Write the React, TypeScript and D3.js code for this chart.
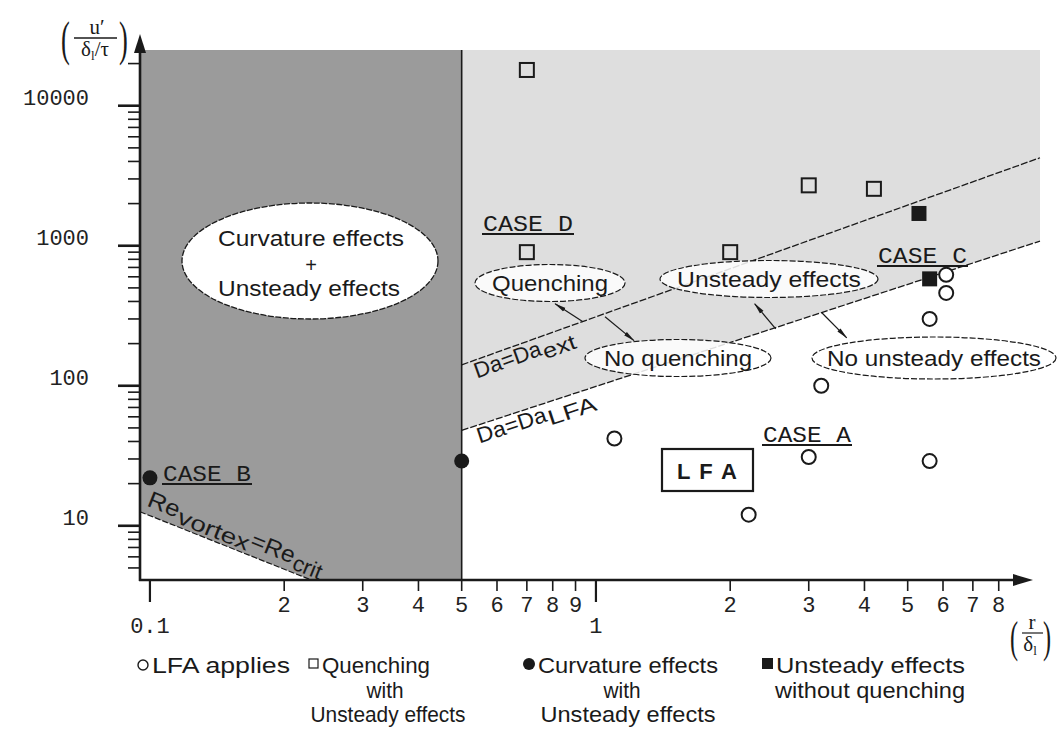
import React from "react";
import * as d3 from "d3";

// ---------- data ----------
const X_DOMAIN: [number, number] = [0.095, 9.9];
const Y_DOMAIN: [number, number] = [4.1, 25000];

const xMajorTicks = [0.1, 1];
const xMajorLabels = ["0.1", "1"];
const xMinorTicks = [0.2, 0.3, 0.4, 0.5, 0.6, 0.7, 0.8, 0.9, 2, 3, 4, 5, 6, 7, 8];
const xMinorLabels = ["2", "3", "4", "5", "6", "7", "8", "9", "2", "3", "4", "5", "6", "7", "8"];
const yMajorTicks = [10, 100, 1000, 10000];
const yMajorLabels = ["10", "100", "1000", "10000"];
const yMinorTicks = [
  5, 6, 7, 8, 9,
  20, 30, 40, 50, 60, 70, 80, 90,
  200, 300, 400, 500, 600, 700, 800, 900,
  2000, 3000, 4000, 5000, 6000, 7000, 8000, 9000,
  20000,
];

// r/δl , u'/(δl/τ)
const lfaPoints = [
  { x: 1.1, y: 42 },
  { x: 2.2, y: 12 },
  { x: 3.0, y: 31 },
  { x: 3.2, y: 100 },
  { x: 5.6, y: 29 },
  { x: 5.6, y: 300 },
  { x: 6.1, y: 460 },
  { x: 6.1, y: 620 },
];
const quenchingPoints = [
  { x: 0.7, y: 18000 },
  { x: 0.7, y: 900 },
  { x: 2.0, y: 900 },
  { x: 3.0, y: 2700 },
  { x: 4.2, y: 2550 },
];
const curvaturePoints = [
  { x: 0.1, y: 22 },
  { x: 0.5, y: 29 },
];
const unsteadyPoints = [
  { x: 5.3, y: 1700 },
  { x: 5.6, y: 580 },
];

// regime boundaries
const reCritLine = [
  { x: 0.095, y: 12.6 },
  { x: 0.23, y: 4.1 },
];
const daLfaLine = [
  { x: 0.5, y: 48 },
  { x: 9.9, y: 1080 },
];
const daExtLine = [
  { x: 0.5, y: 141 },
  { x: 9.9, y: 4250 },
];
const curvatureLimit = 0.5;

// arrows between regime labels (tail on a boundary, head at a label)
const regimeArrows = [
  { from: { x: 0.935, y: 287 }, to: { x: 0.81, y: 385 } },
  { from: { x: 1.048, y: 311 }, to: { x: 1.217, y: 210 } },
  { from: { x: 2.53, y: 255 }, to: { x: 2.27, y: 385 } },
  { from: { x: 3.21, y: 332 }, to: { x: 3.65, y: 220 } },
];

// ---------- layout ----------
const W = 1057;
const H = 731;
const PLOT = { left: 140, right: 1040, top: 50, bottom: 580 };

const SANS = "'Liberation Sans', Arial, Helvetica, sans-serif";
const NARROW = "'Liberation Sans Narrow', 'Liberation Sans', Arial, sans-serif";
const MONO = "'Liberation Mono', 'Courier New', monospace";
const SERIF = "'Liberation Serif', 'Times New Roman', serif";

const INK = "#1a1a1a";
const DARK_GRAY = "#9b9b9b";
const LIGHT_GRAY = "#dedede";

const bubbles = [
  { cx: 550, cy: 283, rx: 75, ry: 18.5, lines: [{ t: "Quenching", y: 291, w: 116 }] },
  { cx: 769, cy: 279, rx: 109, ry: 18.5, lines: [{ t: "Unsteady effects", y: 287, w: 184 }] },
  { cx: 678, cy: 358, rx: 93, ry: 18.5, lines: [{ t: "No quenching", y: 366, w: 148 }] },
  { cx: 934, cy: 358, rx: 122, ry: 21, lines: [{ t: "No unsteady effects", y: 366, w: 214 }] },
];

const caseLabels = [
  { t: "CASE B", x: 163, y: 481, w: 88 },
  { t: "CASE D", x: 483, y: 231, w: 90 },
  { t: "CASE C", x: 878, y: 263, w: 89 },
  { t: "CASE A", x: 763, y: 442, w: 88 },
];

export default function App() {
  const xs = d3.scaleLog().domain(X_DOMAIN).range([PLOT.left, PLOT.right]);
  const ys = d3.scaleLog().domain(Y_DOMAIN).range([PLOT.bottom, PLOT.top]);
  const [yLo, yHi] = Y_DOMAIN;
  const [xLo, xHi] = X_DOMAIN;

  const poly = (pts: { x: number; y: number }[]) =>
    pts.map((p) => `${xs(p.x)},${ys(p.y)}`).join(" ");

  const darkRegion = poly([
    reCritLine[0],
    { x: xLo, y: yHi },
    { x: curvatureLimit, y: yHi },
    { x: curvatureLimit, y: yLo },
    reCritLine[1],
  ]);
  const lightRegion = poly([
    { x: curvatureLimit, y: yHi },
    { x: xHi, y: yHi },
    daLfaLine[1],
    daLfaLine[0],
  ]);

  const line = d3
    .line<{ x: number; y: number }>()
    .x((d) => xs(d.x))
    .y((d) => ys(d.y));

  const angleOf = (pts: { x: number; y: number }[]) =>
    (Math.atan2(ys(pts[1].y) - ys(pts[0].y), xs(pts[1].x) - xs(pts[0].x)) * 180) / Math.PI;

  // point on a boundary at a given pixel x
  const onLine = (pts: { x: number; y: number }[], px: number) => {
    const x0 = xs(pts[0].x), y0 = ys(pts[0].y), x1 = xs(pts[1].x), y1 = ys(pts[1].y);
    return { x: px, y: y0 + ((px - x0) * (y1 - y0)) / (x1 - x0) };
  };

  const extAnchor = onLine(daExtLine, 471);
  const lfaAnchor = onLine(daLfaLine, 474);
  const reAnchor = onLine(reCritLine, 143);

  return (
    <svg
      width={W}
      height={H}
      viewBox={`0 0 ${W} ${H}`}
      style={{ position: "absolute", left: 0, top: 0, background: "#fff" }}
    >
      <defs>
        <marker
          id="head"
          viewBox="0 0 12 6"
          refX="11"
          refY="3"
          markerWidth="12"
          markerHeight="6"
          markerUnits="userSpaceOnUse"
          orient="auto"
        >
          <path d="M0,0.8 L12,3 L0,5.2 Z" fill={INK} />
        </marker>
      </defs>

      {/* regime regions */}
      <polygon points={darkRegion} fill={DARK_GRAY} />
      <polygon points={lightRegion} fill={LIGHT_GRAY} />

      {/* regime boundaries */}
      <path d={line(reCritLine) || ""} stroke={INK} strokeWidth={1.2} strokeDasharray="6 2" fill="none" />
      <path d={line(daLfaLine) || ""} stroke={INK} strokeWidth={1.3} strokeDasharray="7 2" fill="none" />
      <path d={line(daExtLine) || ""} stroke={INK} strokeWidth={1.3} strokeDasharray="7 2" fill="none" />
      <line
        x1={xs(curvatureLimit)}
        x2={xs(curvatureLimit)}
        y1={ys(yHi)}
        y2={ys(yLo)}
        stroke={INK}
        strokeWidth={1.6}
      />

      {/* curvature + unsteady bubble */}
      <ellipse cx={310} cy={261} rx={128} ry={58} fill="#fff" stroke={INK} strokeWidth={1.3} strokeDasharray="6 1.5" />
      <text x={311} y={246} textAnchor="middle" fontFamily={SANS} fontSize={22} fill={INK} textLength={186} lengthAdjust="spacingAndGlyphs">
        Curvature effects
      </text>
      <text x={311} y={272} textAnchor="middle" fontFamily={SANS} fontSize={20} fill={INK}>
        +
      </text>
      <text x={309} y={296} textAnchor="middle" fontFamily={SANS} fontSize={22} fill={INK} textLength={182} lengthAdjust="spacingAndGlyphs">
        Unsteady effects
      </text>

      {/* arrows between regime labels */}
      {regimeArrows.map((a, i) => (
        <line
          key={i}
          x1={xs(a.from.x)}
          y1={ys(a.from.y)}
          x2={xs(a.to.x)}
          y2={ys(a.to.y)}
          stroke={INK}
          strokeWidth={1.2}
          markerEnd="url(#head)"
        />
      ))}

      {/* regime bubbles */}
      {bubbles.map((b, i) => (
        <g key={i}>
          <ellipse cx={b.cx} cy={b.cy} rx={b.rx} ry={b.ry} fill="#fff" fillOpacity={0.85} stroke={INK} strokeWidth={1.2} strokeDasharray="6 2" />
          {b.lines.map((l, j) => (
            <text key={j} x={b.cx} y={l.y} textAnchor="middle" fontFamily={SANS} fontSize={22} fill={INK} textLength={l.w} lengthAdjust="spacingAndGlyphs">
              {l.t}
            </text>
          ))}
        </g>
      ))}

      {/* boundary labels */}
      <g transform={`translate(${extAnchor.x},${extAnchor.y}) rotate(${angleOf(daExtLine)})`}>
        <text x={0} y={18} fontFamily={SANS} fontSize={22} fill={INK} textLength={70} lengthAdjust="spacingAndGlyphs">
          Da=Da
        </text>
        <text x={71} y={23} fontFamily={SANS} fontSize={21} fill={INK} textLength={34} lengthAdjust="spacingAndGlyphs">
          ext
        </text>
      </g>
      <g transform={`translate(${lfaAnchor.x},${lfaAnchor.y}) rotate(${angleOf(daLfaLine)})`}>
        <text x={0} y={18} fontFamily={SANS} fontSize={22} fill={INK} textLength={72} lengthAdjust="spacingAndGlyphs">
          Da=Da
        </text>
        <text x={73} y={23} fontFamily={SANS} fontSize={21} fill={INK} textLength={50} lengthAdjust="spacingAndGlyphs">
          LFA
        </text>
      </g>
      <g transform={`translate(${reAnchor.x},${reAnchor.y}) rotate(${angleOf(reCritLine)})`}>
        <text x={0} y={-8} fontFamily={SANS} fontSize={23} fill={INK} textLength={33} lengthAdjust="spacingAndGlyphs">
          Re
        </text>
        <text x={34} y={-3} fontFamily={SANS} fontSize={22} fill={INK} textLength={76} lengthAdjust="spacingAndGlyphs">
          vortex
        </text>
        <text x={111} y={-8} fontFamily={SANS} fontSize={23} fill={INK} textLength={46} lengthAdjust="spacingAndGlyphs">
          =Re
        </text>
        <text x={158} y={-3} fontFamily={SANS} fontSize={22} fill={INK} textLength={30} lengthAdjust="spacingAndGlyphs">
          crit
        </text>
      </g>

      {/* LFA box */}
      <rect x={662} y={449} width={91} height={42} fill="#fff" stroke={INK} strokeWidth={2.2} />
      <text x={677} y={479} fontFamily={SANS} fontWeight="bold" fontSize={22} fill={INK} textLength={60} lengthAdjust="spacing">
        L F A
      </text>

      {/* case labels */}
      {caseLabels.map((c, i) => (
        <g key={i}>
          <text x={c.x} y={c.y} fontFamily={MONO} fontSize={22} fill={INK} textLength={c.w} lengthAdjust="spacingAndGlyphs" style={{ whiteSpace: "pre" }}>
            {c.t}
          </text>
          <line x1={c.x - 1} x2={c.x + c.w + 1} y1={c.y + 3} y2={c.y + 3} stroke={INK} strokeWidth={1.8} />
        </g>
      ))}

      {/* data points */}
      {lfaPoints.map((p, i) => (
        <circle key={`l${i}`} cx={xs(p.x)} cy={ys(p.y)} r={7} fill="#fff" stroke={INK} strokeWidth={2} />
      ))}
      {quenchingPoints.map((p, i) => (
        <rect key={`q${i}`} x={xs(p.x) - 7} y={ys(p.y) - 7} width={14} height={14} fill="none" stroke={INK} strokeWidth={2} />
      ))}
      {curvaturePoints.map((p, i) => (
        <circle key={`c${i}`} cx={xs(p.x)} cy={ys(p.y)} r={7.5} fill={INK} />
      ))}
      {unsteadyPoints.map((p, i) => (
        <rect key={`u${i}`} x={xs(p.x) - 7.5} y={ys(p.y) - 7.5} width={15} height={15} fill={INK} />
      ))}

      {/* y axis */}
      <line x1={PLOT.left} x2={PLOT.left} y1={PLOT.bottom + 1} y2={46} stroke={INK} strokeWidth={2.6} />
      <path d={`M${PLOT.left},34 L${PLOT.left - 6},53 L${PLOT.left + 6},53 Z`} fill={INK} />
      {yMajorTicks.map((t, i) => (
        <g key={`ym${i}`}>
          <line x1={PLOT.left - 22} x2={PLOT.left} y1={ys(t)} y2={ys(t)} stroke={INK} strokeWidth={2.6} />
          <text x={89} y={ys(t) - 1} textAnchor="end" fontFamily={MONO} fontSize={22} fill="#222">
            {yMajorLabels[i]}
          </text>
        </g>
      ))}
      {yMinorTicks.map((t, i) => (
        <line key={`yn${i}`} x1={PLOT.left - 12} x2={PLOT.left} y1={ys(t)} y2={ys(t)} stroke={INK} strokeWidth={1.6} />
      ))}

      {/* x axis */}
      <line x1={PLOT.left - 1} x2={1018} y1={PLOT.bottom} y2={PLOT.bottom} stroke={INK} strokeWidth={2.6} />
      <path d={`M1033,${PLOT.bottom} L1013,${PLOT.bottom - 6} L1013,${PLOT.bottom + 6} Z`} fill={INK} />
      {xMajorTicks.map((t, i) => (
        <g key={`xm${i}`}>
          <line x1={xs(t)} x2={xs(t)} y1={PLOT.bottom} y2={PLOT.bottom + 22} stroke={INK} strokeWidth={2.2} />
          <text x={xs(t)} y={633} textAnchor="middle" fontFamily={MONO} fontSize={22} fill="#222">
            {xMajorLabels[i]}
          </text>
        </g>
      ))}
      {xMinorTicks.map((t, i) => (
        <g key={`xn${i}`}>
          <line x1={xs(t)} x2={xs(t)} y1={PLOT.bottom} y2={PLOT.bottom + 11} stroke={INK} strokeWidth={1.6} />
          <text x={xs(t)} y={612} textAnchor="middle" fontFamily={MONO} fontSize={22} fill="#222">
            {xMinorLabels[i]}
          </text>
        </g>
      ))}

      {/* y axis title: u' / (δl/τ) */}
      <g fontFamily={SERIF} fill={INK}>
        <text x={61} y={55} fontSize={48} fontWeight={300} transform="translate(61,0) scale(0.55,1) translate(-61,0)">(</text>
        <text x={119} y={55} fontSize={48} fontWeight={300} transform="translate(119,0) scale(0.55,1) translate(-119,0)">)</text>
        <text x={97} y={34} textAnchor="middle" fontSize={21}>u′</text>
        <line x1={74} x2={117} y1={38} y2={38} stroke={INK} strokeWidth={1.3} />
        <text x={95} y={56} textAnchor="middle" fontSize={21}>
          δ<tspan fontSize={13} dy={4}>l</tspan>
          <tspan dy={-4}>/τ</tspan>
        </text>
      </g>

      {/* x axis title: r/δl */}
      <g fontFamily={SERIF} fill={INK}>
        <text x={1010} y={652} fontSize={44} transform="translate(1010,0) scale(0.55,1) translate(-1010,0)">(</text>
        <text x={1043} y={652} fontSize={44} transform="translate(1043,0) scale(0.55,1) translate(-1043,0)">)</text>
        <text x={1032} y={629} textAnchor="middle" fontSize={21}>r</text>
        <line x1={1022} x2={1043} y1={633} y2={633} stroke={INK} strokeWidth={1.2} />
        <text x={1030} y={651} textAnchor="middle" fontSize={21}>
          δ<tspan fontSize={13} dy={4}>l</tspan>
        </text>
      </g>

      {/* legend */}
      <g fontFamily={NARROW} fontSize={22} fill={INK}>
        <circle cx={143} cy={665} r={5} fill="#fff" stroke={INK} strokeWidth={1.4} />
        <text x={152} y={673} textLength={138} lengthAdjust="spacingAndGlyphs">LFA applies</text>

        <rect x={309} y={659} width={9} height={9} fill="#fff" stroke={INK} strokeWidth={1.2} />
        <text x={322} y={673} textLength={108} lengthAdjust="spacingAndGlyphs">Quenching</text>
        <text x={385} y={698} textAnchor="middle" textLength={37} lengthAdjust="spacingAndGlyphs">with</text>
        <text x={388} y={722} textAnchor="middle" textLength={155} lengthAdjust="spacingAndGlyphs">Unsteady effects</text>

        <circle cx={529} cy={664} r={6} fill={INK} />
        <text x={538} y={673} textLength={180} lengthAdjust="spacingAndGlyphs">Curvature effects</text>
        <text x={622} y={698} textAnchor="middle" textLength={37} lengthAdjust="spacingAndGlyphs">with</text>
        <text x={628} y={722} textAnchor="middle" textLength={175} lengthAdjust="spacingAndGlyphs">Unsteady effects</text>

        <rect x={762} y={658} width={11} height={11} fill={INK} />
        <text x={776} y={673} textLength={189} lengthAdjust="spacingAndGlyphs">Unsteady effects</text>
        <text x={870} y={698} textAnchor="middle" textLength={190} lengthAdjust="spacingAndGlyphs">without quenching</text>
      </g>
    </svg>
  );
}
